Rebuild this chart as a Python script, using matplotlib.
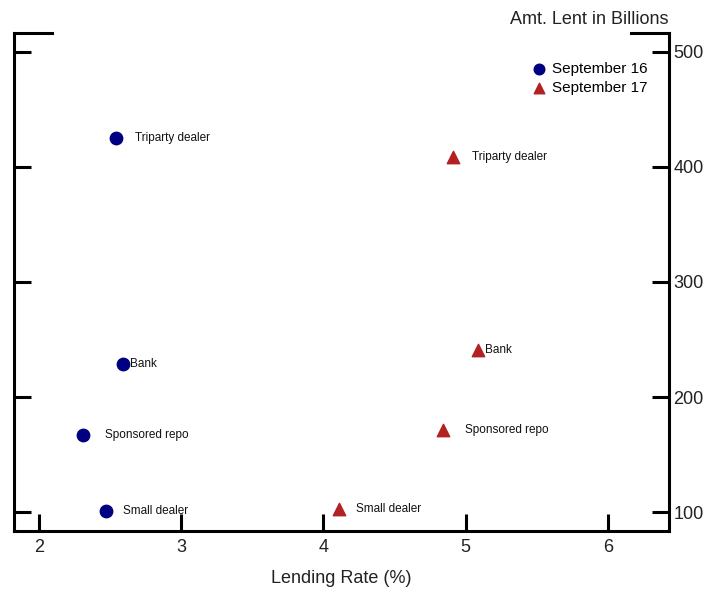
import matplotlib
matplotlib.use("Agg")
import matplotlib.pyplot as plt

plt.rcParams['font.family'] = ['Liberation Sans', 'DejaVu Sans']

categories = ["Triparty dealer", "Bank", "Sponsored repo", "Small dealer"]
sep16_rate = [2.54, 2.59, 2.31, 2.47]
sep16_amt = [425, 229, 167, 101]
sep17_rate = [4.91, 5.09, 4.84, 4.11]
sep17_amt = [409, 241, 171, 103]
label_dx = [14, 5, 16, 12]  # label offsets in points

xticks = [2, 3, 4, 5, 6]
yticks = [100, 200, 300, 400, 500]

navy = "#000080"
red = "#b22222"

fig = plt.figure(figsize=(7.04, 5.93), dpi=100)
ax = fig.add_axes([14/704, 1 - 531/593, (669-14)/704, (531-33)/593])

ax.scatter(sep16_rate, sep16_amt, s=80, marker='o', color=navy, zorder=3,
           label="September 16")
ax.scatter(sep17_rate, sep17_amt, s=80, marker='^', color=red, zorder=3,
           label="September 17")

for name, x, y, dx in zip(categories, sep16_rate, sep16_amt, label_dx):
    ax.annotate(name, (x, y), xytext=(dx, 0), textcoords='offset points',
                ha='left', va='center', fontsize=8.5, color='#111111')
for name, x, y, dx in zip(categories, sep17_rate, sep17_amt, label_dx):
    ax.annotate(name, (x, y), xytext=(dx, 0), textcoords='offset points',
                ha='left', va='center', fontsize=8.5, color='#111111')

ax.set_xlim(1.824, 6.43)
ax.set_ylim(83.5, 516.5)
ax.set_xticks(xticks)
ax.set_yticks(yticks)

for side in ['left', 'right', 'bottom']:
    ax.spines[side].set_linewidth(2.2)
ax.spines['top'].set_visible(False)

ax.tick_params(axis='x', direction='in', length=12, width=2.2, labelsize=13,
               pad=6, colors='black', labelcolor='#222222')
ax.tick_params(axis='y', direction='in', length=12, width=2.2, labelsize=13,
               left=True, right=True, labelleft=False, labelright=True,
               pad=3, labelcolor='#222222')

# short caps at the top of each vertical axis
ax.plot([0, 38/655], [1, 1], transform=ax.transAxes, color='black',
        lw=2.2, clip_on=False, solid_capstyle='projecting')
ax.plot([1 - 38/655, 1], [1, 1], transform=ax.transAxes, color='black',
        lw=2.2, clip_on=False, solid_capstyle='projecting')

ax.set_xlabel("Lending Rate (%)", fontsize=13, color='#222222', labelpad=10)
fig.text(668/704, 1 - 19/593, "Amt. Lent in Billions", fontsize=13,
         ha='right', va='center', color='#222222')

ax.legend(loc='upper left', bbox_to_anchor=(5.465, 491), bbox_transform=ax.transData,
          frameon=False, fontsize=11, handletextpad=0.3, labelspacing=0.3,
          borderaxespad=0, borderpad=0, handlelength=1.0, scatterpoints=1,
          markerscale=0.85)

fig.savefig("out.png", dpi=100)
